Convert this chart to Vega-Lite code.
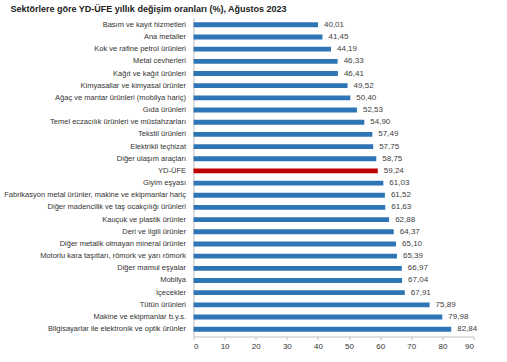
{
  "$schema": "https://vega.github.io/schema/vega-lite/v6.json",
  "width": 280,
  "height": 319,
  "autosize": {"type": "none"},
  "padding": {"left": 193.5, "top": 17.5, "right": 33.5, "bottom": 25.5},
  "background": "white",
  "config": {
    "locale": {"number": {"decimal": ",", "thousands": ".", "grouping": [3], "currency": ["", " TL"]}},
    "view": {"stroke": null},
    "font": "Liberation Sans"
  },
  "title": {
    "text": "Sektörlere göre YD-ÜFE yıllık değişim oranları (%), Ağustos 2023",
    "anchor": "start",
    "frame": "group",
    "dx": -183,
    "offset": 4,
    "fontSize": 9,
    "fontWeight": "bold",
    "color": "#222222",
    "font": "Liberation Sans"
  },
  "data": {
    "values": [
      {"sektor": "Basım ve kayıt hizmetleri", "deger": 40.01, "tip": "sektor"},
      {"sektor": "Ana metaller", "deger": 41.45, "tip": "sektor"},
      {"sektor": "Kok ve rafine petrol ürünleri", "deger": 44.19, "tip": "sektor"},
      {"sektor": "Metal cevherleri", "deger": 46.33, "tip": "sektor"},
      {"sektor": "Kağıt ve kağıt ürünleri", "deger": 46.41, "tip": "sektor"},
      {"sektor": "Kimyasallar ve kimyasal ürünler", "deger": 49.52, "tip": "sektor"},
      {"sektor": "Ağaç ve mantar ürünleri (mobilya hariç)", "deger": 50.40, "tip": "sektor"},
      {"sektor": "Gıda ürünleri", "deger": 52.53, "tip": "sektor"},
      {"sektor": "Temel eczacılık ürünleri ve müstahzarları", "deger": 54.90, "tip": "sektor"},
      {"sektor": "Tekstil ürünleri", "deger": 57.49, "tip": "sektor"},
      {"sektor": "Elektrikli teçhizat", "deger": 57.75, "tip": "sektor"},
      {"sektor": "Diğer ulaşım araçları", "deger": 58.75, "tip": "sektor"},
      {"sektor": "YD-ÜFE", "deger": 59.24, "tip": "genel"},
      {"sektor": "Giyim eşyası", "deger": 61.03, "tip": "sektor"},
      {"sektor": "Fabrikasyon metal ürünler, makine ve ekipmanlar hariç", "deger": 61.52, "tip": "sektor"},
      {"sektor": "Diğer madencilik ve taş ocakçılığı ürünleri", "deger": 61.63, "tip": "sektor"},
      {"sektor": "Kauçuk ve plastik ürünler", "deger": 62.88, "tip": "sektor"},
      {"sektor": "Deri ve ilgili ürünler", "deger": 64.37, "tip": "sektor"},
      {"sektor": "Diğer metalik olmayan mineral ürünler", "deger": 65.10, "tip": "sektor"},
      {"sektor": "Motorlu kara taşıtları, römork ve yarı römork", "deger": 65.39, "tip": "sektor"},
      {"sektor": "Diğer mamul eşyalar", "deger": 66.97, "tip": "sektor"},
      {"sektor": "Mobilya", "deger": 67.04, "tip": "sektor"},
      {"sektor": "İçecekler", "deger": 67.91, "tip": "sektor"},
      {"sektor": "Tütün ürünleri", "deger": 75.89, "tip": "sektor"},
      {"sektor": "Makine ve ekipmanlar b.y.s.", "deger": 79.98, "tip": "sektor"},
      {"sektor": "Bilgisayarlar ile elektronik ve optik ürünler", "deger": 82.84, "tip": "sektor"}
    ]
  },
  "encoding": {
    "y": {
      "field": "sektor",
      "type": "nominal",
      "sort": null,
      "scale": {"paddingInner": 0.6, "paddingOuter": 0.4},
      "axis": {
        "title": null,
        "labelFontSize": 7.5,
        "labelColor": "#333333",
        "labelPadding": 8,
        "ticks": false,
        "domainColor": "#bfbfbf",
        "labelLimit": 200
      }
    },
    "x": {
      "field": "deger",
      "type": "quantitative",
      "scale": {"domain": [0, 90], "nice": false},
      "axis": {
        "title": null,
        "values": [0, 10, 20, 30, 40, 50, 60, 70, 80, 90],
        "format": "d",
        "grid": false,
        "labelFontSize": 8,
        "labelColor": "#333333",
        "domainColor": "#bfbfbf",
        "tickColor": "#bfbfbf",
        "tickSize": 3,
        "labelPadding": 3
      }
    }
  },
  "layer": [
    {
      "mark": {"type": "bar"},
      "encoding": {
        "color": {
          "field": "tip",
          "type": "nominal",
          "scale": {"domain": ["sektor", "genel"], "range": ["#2E75B6", "#C00000"]},
          "legend": null
        }
      }
    },
    {
      "mark": {"type": "text", "align": "left", "baseline": "middle", "dx": 6, "fontSize": 8, "color": "#404040"},
      "encoding": {
        "text": {"field": "deger", "type": "quantitative", "format": ".2f"}
      }
    }
  ]
}
